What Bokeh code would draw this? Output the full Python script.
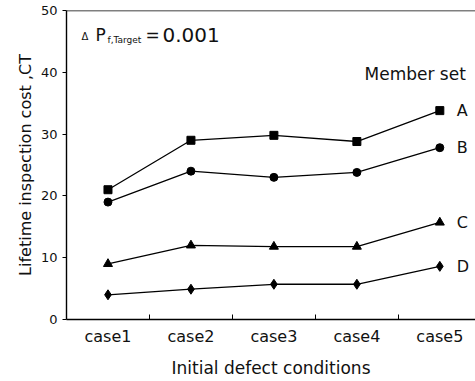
from bokeh.plotting import figure
from bokeh.models import FixedTicker, Span, Label, Range1d
from bokeh.embed import file_html
from bokeh.resources import INLINE

cases = ["case1", "case2", "case3", "case4", "case5"]
xpos = [1, 2, 3, 4, 5]
set_A = [21, 29, 29.8, 28.8, 33.8]
set_B = [19, 24, 23, 23.8, 27.8]
set_C = [9, 12, 11.8, 11.8, 15.7]
set_D = [4, 4.9, 5.7, 5.7, 8.6]
series_names = ["A", "B", "C", "D"]
y_ticks = [0, 10, 20, 30, 40, 50]

FONT = "DejaVu Sans"
TXT = "#111111"

p = figure(width=475, height=381, output_backend="svg", toolbar_location=None,
           x_range=Range1d(0.5, 5.43), y_range=Range1d(0, 50))
p.min_border_left = 66
p.min_border_top = 10
p.min_border_right = 0
p.min_border_bottom = 62
p.outline_line_color = None
p.grid.visible = False
p.background_fill_color = "white"
p.border_fill_color = "white"

p.add_layout(Span(location=50, dimension="width", line_color="black", line_width=1.3))

# x axis
xa = p.xaxis[0]
xa.ticker = FixedTicker(ticks=xpos, minor_ticks=[1.5, 2.5, 3.5, 4.5])
xa.major_label_overrides = {x: c for x, c in zip(xpos, cases)}
xa.major_tick_line_color = None
xa.major_tick_in = 0
xa.major_tick_out = 0
xa.minor_tick_in = 5
xa.minor_tick_out = 0
xa.minor_tick_line_color = "black"
xa.axis_line_color = "black"
xa.axis_line_width = 1.4
xa.major_label_text_font = FONT
xa.major_label_text_font_size = "16px"
xa.major_label_text_color = TXT
xa.major_label_standoff = 7
xa.axis_label = "Initial defect conditions"
xa.axis_label_text_font = FONT
xa.axis_label_text_font_size = "17px"
xa.axis_label_text_font_style = "normal"
xa.axis_label_text_color = TXT
xa.axis_label_standoff = 9

# y axis
ya = p.yaxis[0]
ya.ticker = FixedTicker(ticks=y_ticks, minor_ticks=[])
ya.major_tick_in = 0
ya.major_tick_out = 4
ya.axis_line_color = "black"
ya.axis_line_width = 1.4
ya.major_label_text_font = FONT
ya.major_label_text_font_size = "13px"
ya.major_label_text_color = TXT
ya.major_label_standoff = 5
ya.axis_label = "Lifetime inspection cost ,CT"
ya.axis_label_text_font = FONT
ya.axis_label_text_font_size = "16px"
ya.axis_label_text_font_style = "normal"
ya.axis_label_text_color = TXT
ya.axis_label_standoff = 3

lw = 1.3
p.line(xpos, set_A, line_color="black", line_width=lw)
p.scatter(xpos, set_A, marker="square", size=8, color="black")
p.line(xpos, set_B, line_color="black", line_width=lw)
p.scatter(xpos, set_B, marker="circle", size=8, color="black")
p.line(xpos, set_C, line_color="black", line_width=lw)
p.scatter(xpos, set_C, marker="triangle", size=9, color="black")
p.line(xpos, set_D, line_color="black", line_width=lw)
p.scatter(xpos, set_D, marker="diamond", size=10, color="black")

for name, ys in zip(series_names, [set_A, set_B, set_C, set_D]):
    p.add_layout(Label(x=5, y=ys[-1], text=name, x_offset=17, text_baseline="middle",
                       text_font=FONT, text_font_size="16px", text_color=TXT))

# screen units are relative to the frame (x from left edge, y up from bottom edge)
p.add_layout(Label(x=364 - 66, y=319 - 73, x_units="screen", y_units="screen", text="Member set",
                   text_baseline="middle", text_font=FONT, text_font_size="17px",
                   text_color=TXT))

# annotation: Delta P_f,Target = 0.001
p.add_layout(Label(x=81 - 66, y=319 - 36, x_units="screen", y_units="screen", text="Δ",
                   text_baseline="middle", text_font=FONT, text_font_size="10px", text_color=TXT))
p.add_layout(Label(x=95 - 66, y=319 - 34, x_units="screen", y_units="screen", text="P",
                   text_baseline="middle", text_font=FONT, text_font_size="17px", text_color=TXT))
p.add_layout(Label(x=107 - 66, y=319 - 39, x_units="screen", y_units="screen", text="f,Target",
                   text_baseline="middle", text_font=FONT, text_font_size="9px", text_color=TXT))
p.add_layout(Label(x=145 - 66, y=319 - 34, x_units="screen", y_units="screen", text="=",
                   text_baseline="middle", text_font=FONT, text_font_size="17px", text_color=TXT))
p.add_layout(Label(x=162 - 66, y=319 - 34, x_units="screen", y_units="screen", text="0.001",
                   text_baseline="middle", text_font=FONT, text_font_size="20px", text_color=TXT))

open("out.html", "w").write(file_html(p, INLINE))
